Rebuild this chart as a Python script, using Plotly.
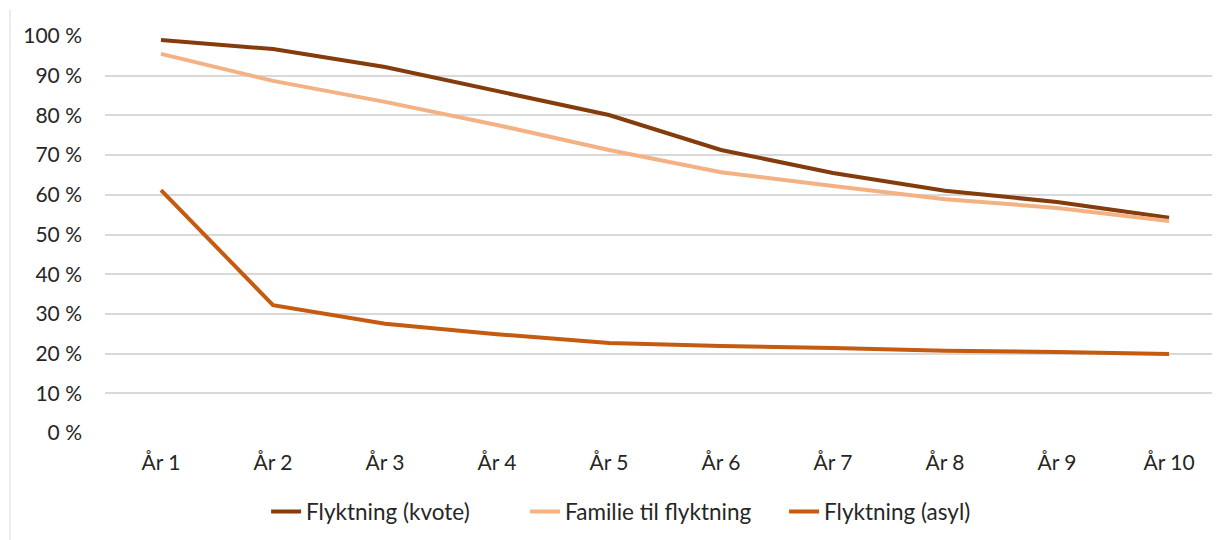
import plotly.graph_objects as go

categories = ["År 1", "År 2", "År 3", "År 4", "År 5", "År 6", "År 7", "År 8", "År 9", "År 10"]
kvote = [99.0, 96.7, 92.2, 86.1, 80.1, 71.3, 65.5, 61.0, 58.2, 54.2]
familie = [95.5, 88.7, 83.4, 77.6, 71.3, 65.7, 62.2, 58.9, 56.7, 53.4]
asyl = [61.2, 32.2, 27.5, 24.9, 22.7, 21.9, 21.4, 20.7, 20.4, 19.9]
series_names = ["Flyktning (kvote)", "Familie til flyktning", "Flyktning (asyl)"]
colors = ["#843C0C", "#F4B183", "#C55A11"]
tick_vals = [0, 10, 20, 30, 40, 50, 60, 70, 80, 90, 100]
tick_text = [f"{v} %" for v in tick_vals]

FONT = "Lato, 'Open Sans', sans-serif"

fig = go.Figure()
for name, vals, col in zip(series_names, [kvote, familie, asyl], colors):
    fig.add_trace(go.Scatter(x=categories, y=vals, mode="lines", name=name,
                             line=dict(color=col, width=4)))

fig.update_layout(
    width=1220, height=540,
    margin=dict(l=97, r=8, t=28, b=115),
    paper_bgcolor="white", plot_bgcolor="white",
    font=dict(family=FONT, size=21, color="#262626"),
    showlegend=True,
    legend=dict(orientation="h", x=0.53, xref="container", xanchor="center",
                y=0.067, yref="container", yanchor="middle",
                font=dict(size=22.5, color="#262626"), itemwidth=30,
                entrywidth=214, entrywidthmode="pixels",
                traceorder="normal"),
    shapes=[dict(type="line", xref="paper", yref="paper",
                 x0=-0.0852, x1=-0.0852, y0=1.066, y1=-0.3,
                 line=dict(color="#d9d9d9", width=1))],
)
fig.update_xaxes(type="category", range=[-0.5, 9.455], showgrid=False,
                 showline=False, ticks="", tickfont=dict(size=21),
                 ticklabelstandoff=15)
fig.update_yaxes(range=[0, 100], tickvals=tick_vals, ticktext=tick_text,
                 showgrid=True, gridcolor="#d9d9d9", gridwidth=1.5,
                 zeroline=False, showline=False, ticks="",
                 tickfont=dict(size=21), ticklabelstandoff=22)

fig.write_html("out.html")
